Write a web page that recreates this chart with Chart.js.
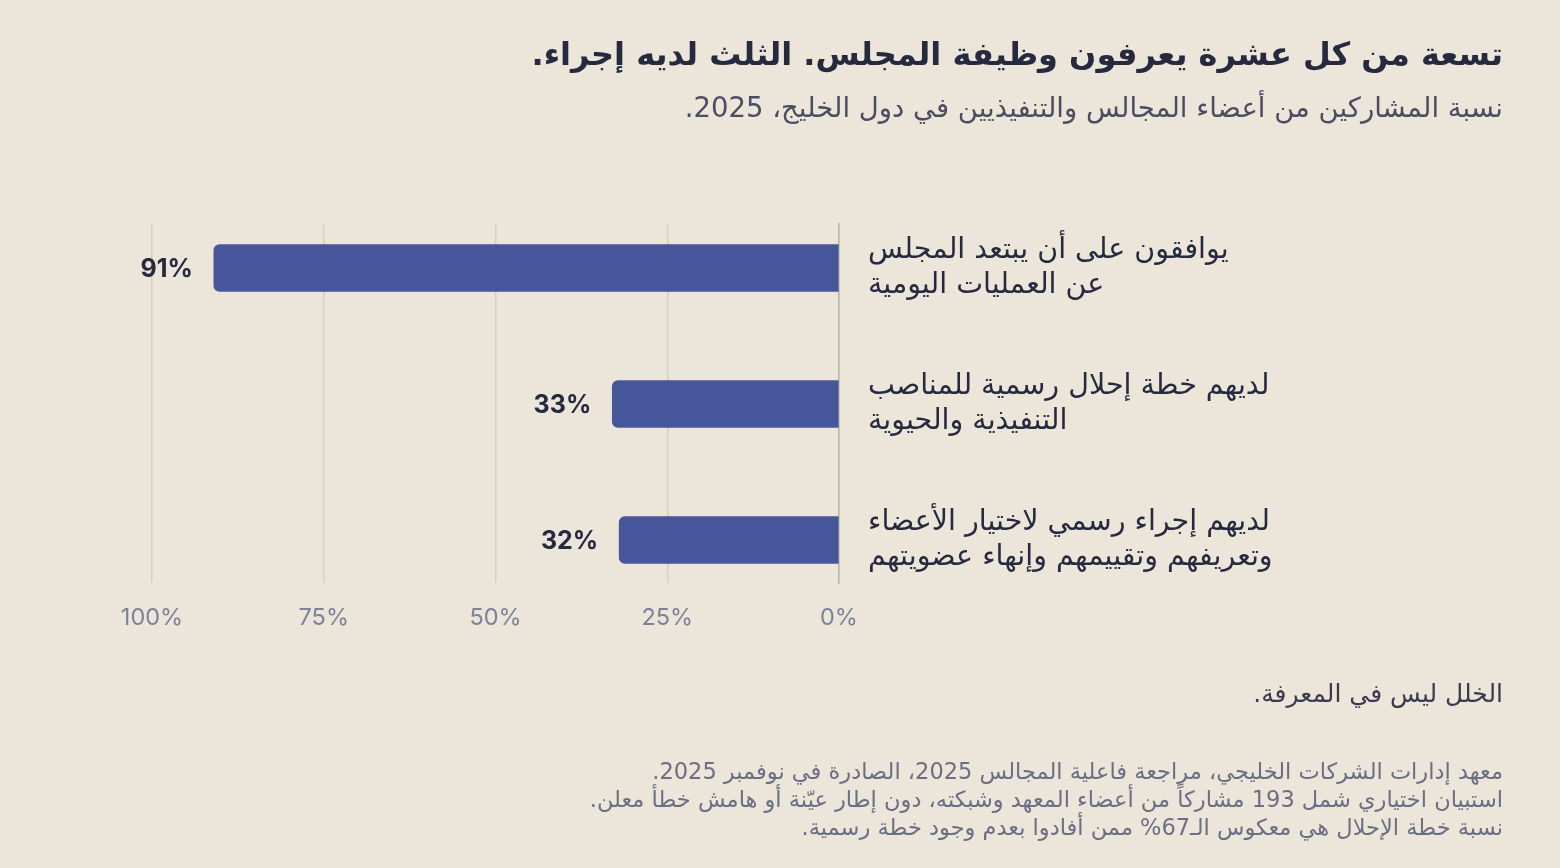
<!DOCTYPE html>
<html lang="ar">
<head>
<meta charset="utf-8">
<title>مجالس الخليج</title>
<script src="https://cdn.jsdelivr.net/npm/chart.js@4.4.1/dist/chart.umd.min.js"></script>
<style>
  html, body { margin: 0; padding: 0; }
  body {
    width: 1560px; height: 868px; overflow: hidden; position: relative;
    background: #ece5da;
    font-family: "DejaVu Sans", "Noto Sans", sans-serif;
  }
  #chart { position: absolute; left: 0; top: 0; }
  .txt { position: absolute; right: 57px; direction: rtl; text-align: right; white-space: nowrap; }
  #title { top: 35px; font-size: 32px; font-weight: bold; color: #262a3e; }
  #subtitle { top: 91px; font-size: 27.5px; color: #4b4d60; }
  #takeaway { top: 679px; font-size: 25px; color: #3a3c4e; }
  #source { top: 757px; font-size: 22.5px; line-height: 28px; color: #6b6f82; }
</style>
</head>
<body>
<canvas id="chart" width="1560" height="868"></canvas>
<div class="txt" id="title">تسعة من كل عشرة يعرفون وظيفة المجلس. الثلث لديه إجراء.</div>
<div class="txt" id="subtitle">نسبة المشاركين من أعضاء المجالس والتنفيذيين في دول الخليج، 2025.</div>
<div class="txt" id="takeaway">الخلل ليس في المعرفة.</div>
<div class="txt" id="source">معهد إدارات الشركات الخليجي، مراجعة فاعلية المجالس 2025، الصادرة في نوفمبر 2025.<br>استبيان اختياري شمل 193 مشاركاً من أعضاء المعهد وشبكته، دون إطار عيّنة أو هامش خطأ معلن.<br>نسبة خطة الإحلال هي معكوس الـ67% ممن أفادوا بعدم وجود خطة رسمية.</div>
<script>
// الفئات (كل فئة سطران)
const categories = [
    ["يوافقون على أن يبتعد المجلس", "عن العمليات اليومية"],
    ["لديهم خطة إحلال رسمية للمناصب", "التنفيذية والحيوية"],
    ["لديهم إجراء رسمي لاختيار الأعضاء", "وتعريفهم وتقييمهم وإنهاء عضويتهم"]
];
const shares = [91, 33, 32];
const xTicks = [0, 25, 50, 75, 100];

const ink = "#262a3e";

// أرقام النسب بجانب الأعمدة
const valueLabels = {
    id: "valueLabels",
    afterDatasetsDraw(chart) {
        const ctx = chart.ctx;
        const meta = chart.getDatasetMeta(0);
        ctx.save();
        ctx.font = "bold 25px Inter, 'DejaVu Sans', sans-serif";
        ctx.fillStyle = ink;
        ctx.textAlign = "right";
        ctx.textBaseline = "middle";
        meta.data.forEach((bar, i) => {
            ctx.fillText(shares[i] + "%", bar.x - 21, bar.y + 1);
        });
        ctx.restore();
    }
};

new Chart(document.getElementById("chart"), {
    type: "bar",
    data: {
        datasets: [{
            data: shares.map((v, i) => ({ x: v, y: i })),
            backgroundColor: "#47569a",
            barThickness: 47,
            borderRadius: 6,
            borderSkipped: "start"
        }]
    },
    options: {
        indexAxis: "y",
        responsive: false,
        animation: false,
        layout: { padding: { top: 224, left: 152, right: 0, bottom: 225 } },
        plugins: { legend: { display: false }, tooltip: { enabled: false } },
        scales: {
            x: {
                type: "linear",
                position: "bottom",
                reverse: true,
                bounds: "data",
                min: 0,
                max: 100,
                afterBuildTicks: (s) => { s.ticks = xTicks.map(v => ({ value: v })); },
                afterFit: (s) => { s.height = 60; },
                grid: { color: "#d9d0c2", lineWidth: 1.5, drawTicks: false },
                border: { display: false },
                ticks: {
                    padding: 21,
                    color: "#7d8296",
                    font: { family: "Inter, sans-serif", size: 23.5 },
                    callback: (v) => v + "%"
                }
            },
            y: {
                type: "linear",
                position: "right",
                reverse: true,
                offset: false,
                bounds: "data",
                min: -0.3235,
                max: 2.3162,
                afterBuildTicks: (s) => { s.ticks = categories.map((c, i) => ({ value: i })); },
                afterFit: (s) => { s.width = 721; },
                grid: { display: false, offset: false },
                border: { display: true, color: "#bdb3a4", width: 1.5 },
                ticks: {
                    padding: 21,
                    color: ink,
                    font: { family: "'DejaVu Sans', sans-serif", size: 28.5, lineHeight: 1.2 },
                    callback: (v) => categories[v]
                }
            }
        }
    },
    plugins: [valueLabels]
});
</script>
</body>
</html>
